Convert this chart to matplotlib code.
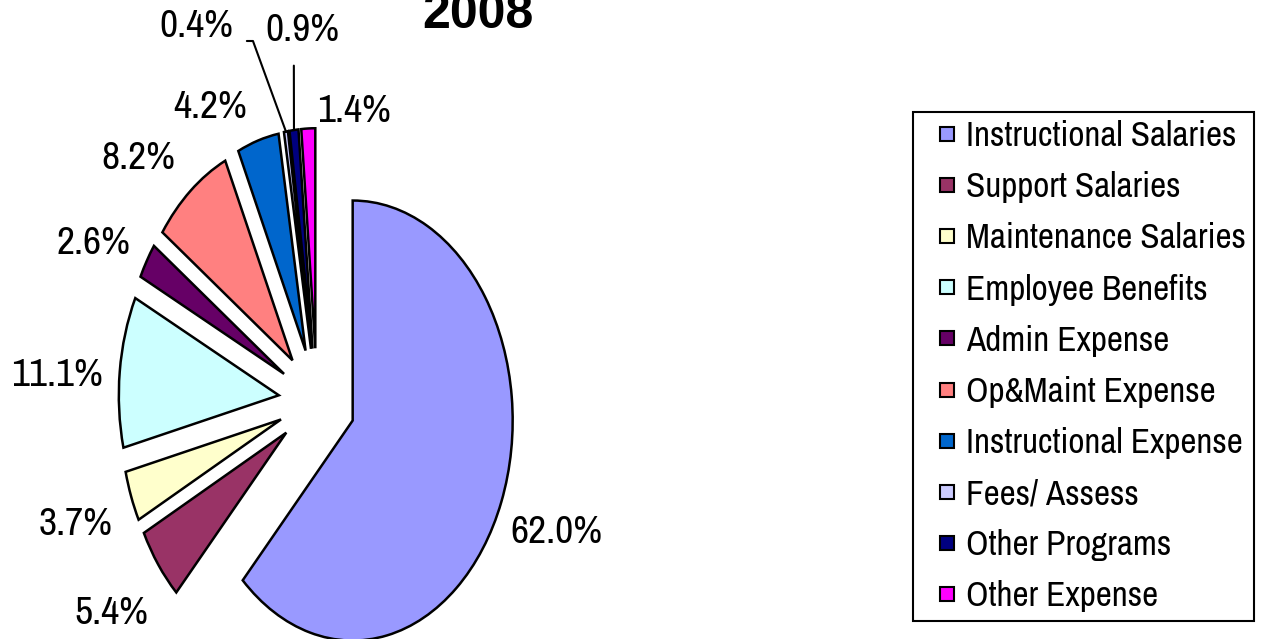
import matplotlib
matplotlib.use('Agg')
import matplotlib.pyplot as plt
from matplotlib.lines import Line2D
import numpy as np

plt.rcParams['font.family'] = ['Archivo Narrow', 'Liberation Sans', 'DejaVu Sans']

categories = ['Instructional Salaries', 'Support Salaries', 'Maintenance Salaries',
              'Employee Benefits', 'Admin Expense', 'Op&Maint Expense',
              'Instructional Expense', 'Fees/ Assess', 'Other Programs', 'Other Expense']
shares = [62.0, 5.4, 3.7, 11.1, 2.6, 8.2, 4.2, 0.4, 0.9, 1.4]
colors = ['#9999FF', '#993366', '#FFFFCC', '#CCFFFF', '#660066',
          '#FF8080', '#0066CC', '#CCCCFF', '#000080', '#FF00FF']
title = '2008'

fig = plt.figure(figsize=(12.63, 6.39), dpi=100)
ax = fig.add_axes([0, 0, 1, 1])

pct_labels = ['%.1f%%' % v for v in shares]
wedges, texts = ax.pie(shares, explode=[0.24] * len(shares), colors=colors,
                       startangle=90, counterclock=False,
                       labels=pct_labels, labeldistance=1.37,
                       wedgeprops=dict(edgecolor='black', linewidth=1.8),
                       textprops=dict(fontsize=28.5, ha='center', va='center'))

# the picture is squeezed sideways, so the pie is an ellipse
ax.set_aspect('auto')
ax.set_xlim(-317 / 160, (1263 - 317) / 160)
ax.set_ylim(-(639 - 401) / 220, 401 / 220)
ax.axis('off')

# labels on the upper left sit a bit lower than the default spot
label_pos = {3: (-1.625, 0.118), 4: (-1.40, 0.714), 5: (-1.119, 1.10),
             6: (-0.669, 1.336), 9: (0.231, 1.318)}
for i, p in label_pos.items():
    texts[i].set_position(p)


def rim_point(w):
    mid = np.deg2rad((w.theta1 + w.theta2) / 2)
    cx, cy = w.center
    return cx + w.r * np.cos(mid), cy + w.r * np.sin(mid)


# the two thinnest slices get labels with leader lines
for i, pos, style, rel, gap in [(7, (-0.756, 1.70), 'angle,angleA=0,angleB=110,rad=0', (1.0, 0.1), 8),
                                (8, (-0.094, 1.686), 'arc3', (0.39, 0.0), 11)]:
    texts[i].set_visible(False)
    ax.annotate(pct_labels[i], xy=rim_point(wedges[i]), xytext=pos,
                ha='center', va='center', fontsize=28.5, annotation_clip=False,
                arrowprops=dict(arrowstyle='-', color='black', lw=1.5,
                                connectionstyle=style, relpos=rel,
                                shrinkA=gap, shrinkB=0))

fig.text(478 / 1263, 1 - 15 / 639, title, ha='center', va='center',
         fontsize=36, fontweight='bold', family='Liberation Sans')

handles = [Line2D([], [], linestyle='none', marker='s', markersize=10,
                  markerfacecolor=c, markeredgecolor='black', markeredgewidth=1.5)
           for c in colors]
leg = fig.legend(handles, categories, loc='upper left',
                 bbox_to_anchor=(913 / 1263, 1 - 112 / 639), borderaxespad=0,
                 fontsize=25.3, frameon=True, fancybox=False, framealpha=1,
                 edgecolor='black', borderpad=0.23, handlelength=1.5,
                 handletextpad=-0.23, labelspacing=0.545)
leg.get_frame().set_linewidth(1.5)

fig.savefig('out.png', dpi=100)
